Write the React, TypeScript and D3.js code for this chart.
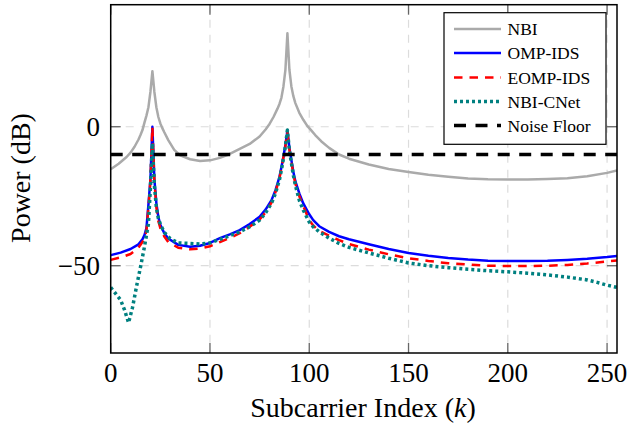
import React from "react";
import * as d3 from "d3";

type P = [number, number];

const xTicks = [0, 50, 100, 150, 200, 250];
const yTicks = [-50, 0];
const xDomain: P = [0, 255];
const yDomain: P = [-81.4, 43.9];

const seriesNames = ["NBI", "OMP-IDS", "EOMP-IDS", "NBI-CNet", "Noise Floor"];

const nbi: P[] = [
  [0, -15.3], [4, -13.3], [8, -10.9], [10, -9.3], [12, -7.2], [14, -4.6], [15, -3], [16, -1.2],
  [17, 1.5], [18, 4], [19, 7], [20, 12.5], [21, 20], [22, 12.5], [23, 7], [24, 3.5], [25, 1.2],
  [26, -0.5], [27, -2], [29, -4.8], [32, -8.3], [35, -10.3], [40, -11.7], [45, -12.3], [50, -12.1],
  [55, -11.2], [60, -9.8], [65, -8], [70, -6.2], [75, -3.5], [78, -1], [80, 1], [82, 3.5],
  [84, 6.5], [85, 8.2], [86, 10.5], [87, 14.5], [88, 20.5], [89, 33.6], [90, 20.5], [91, 14.5],
  [92, 11], [93, 8.5], [95, 5], [97, 2.5], [99, 0.3], [101, -1.3], [103, -3], [106, -5.2],
  [110, -7.6], [115, -10], [120, -11.5], [130, -13.6], [140, -15.2], [150, -16.3], [160, -17.3],
  [170, -18], [180, -18.6], [190, -18.9], [200, -19], [210, -19], [220, -18.8], [230, -18.5],
  [240, -17.8], [250, -16.6], [255, -15.7],
];

const ompIds: P[] = [
  [0, -46.2], [5, -45.3], [10, -44], [14, -42.3], [16, -40.5], [17, -39], [18, -36.5], [19, -28],
  [20, -19], [21, 0], [22, -19], [23, -27.5], [24, -32.5], [25, -35.3], [27, -38.3], [29, -40.2],
  [34, -42.5], [40, -43.2], [45, -42.8], [50, -41.8], [55, -40.1], [60, -38.7], [65, -37.2],
  [70, -35], [75, -32.4], [78, -29.8], [81, -26.4], [83, -22.8], [84, -20.5], [85, -18], [86, -14.5],
  [87, -10.8], [88, -6.5], [89, -1.4], [90, -7.5], [91, -12], [92, -16.3], [93, -19.6], [95, -24],
  [97, -27.6], [100, -31.5], [102, -33.6], [105, -35.8], [110, -37.8], [115, -39.4], [120, -40.5],
  [125, -41.4], [130, -42.3], [140, -44], [150, -45.4], [160, -46.4], [170, -47.2], [180, -47.8],
  [190, -48.2], [200, -48.3], [210, -48.3], [220, -48.2], [230, -47.9], [240, -47.5], [250, -46.9],
  [255, -46.5],
];

const eompIds: P[] = [
  [0, -47.9], [5, -47], [10, -45.8], [14, -43.5], [16, -41.5], [17, -40], [18, -37.5], [19, -29],
  [20, -19.5], [21, 0], [22, -19.5], [23, -29], [24, -34], [25, -36.5], [27, -39.5], [29, -41.5],
  [34, -43.5], [40, -44.1], [45, -43.8], [50, -43], [55, -41.5], [60, -40], [65, -38.3],
  [70, -36], [75, -33.4], [78, -30.8], [81, -27.3], [83, -23.5], [84, -21], [85, -18.5], [86, -15],
  [87, -11], [88, -7], [89, -2], [90, -8.3], [91, -12.5], [92, -17], [93, -20.5], [95, -25],
  [97, -28.6], [100, -33.6], [102, -35.5], [105, -37.5], [110, -39.2], [115, -40.8], [120, -42.2],
  [125, -43.2], [130, -44.2], [140, -45.9], [150, -47.3], [160, -48.3], [170, -49.1], [180, -49.6],
  [190, -50], [200, -50.1], [210, -50.1], [220, -50], [230, -49.7], [240, -49.2], [250, -48.5],
  [255, -48.1],
];

const nbiCnet: P[] = [
  [0, -57.8], [3, -60.5], [5, -62.3], [7, -66], [9, -70.5], [11, -65], [13, -57.5], [15, -50.5],
  [17, -43.2], [19, -35], [20, -22], [21, -6], [22, -21], [23, -29], [24, -33], [25, -35],
  [27, -38], [30, -40.3], [34, -41.8], [40, -42], [45, -42.2], [50, -41.8], [55, -40.5],
  [60, -39.2], [65, -37.8], [70, -36], [75, -33.6], [78, -31], [81, -27.5], [83, -24], [84, -21.5],
  [85, -19], [86, -15.5], [87, -11.5], [88, -7], [89, -1.2], [90, -8.5], [91, -13], [92, -17.5],
  [93, -21], [95, -26.5], [97, -30], [100, -34.3], [102, -36], [105, -37.8], [110, -40.1],
  [115, -42], [120, -43.4], [125, -44.4], [130, -45.4], [140, -47.3], [150, -49], [160, -50],
  [170, -50.7], [180, -51.3], [190, -51.8], [200, -52.2], [210, -52.7], [220, -53.3], [230, -54.1],
  [240, -55.1], [245, -56], [250, -57], [255, -57.8],
];

const noiseFloor: P[] = [[0, -10], [255, -10]];

const W = 628;
const H = 425;
const left = 110.7;
const right = 617;
const top = 4.7;
const bottom = 353;

const styles = [
  { color: "#aaaaaa", width: 2.5, dash: "" },
  { color: "#0000ff", width: 2.5, dash: "" },
  { color: "#ff0000", width: 2.5, dash: "8.5,7" },
  { color: "#008080", width: 3.5, dash: "3,3" },
  { color: "#000000", width: 3.5, dash: "12,9.5" },
];

export default function App() {
  const x = d3.scaleLinear().domain(xDomain).range([left, right]);
  const y = d3.scaleLinear().domain(yDomain).range([bottom, top]);
  const line = d3
    .line<P>()
    .x((d) => x(d[0]))
    .y((d) => y(d[1]));
  const data = [nbi, ompIds, eompIds, nbiCnet, noiseFloor];
  const font = "'Liberation Serif', 'Times New Roman', serif";
  const legendRows = [29, 53, 77.5, 101.5, 125.5];

  return (
    <svg
      width={W}
      height={H}
      style={{ position: "absolute", left: 0, top: 0, background: "#fff" }}
      fontFamily={font}
    >
      <defs>
        <clipPath id="plot">
          <rect x={left} y={top} width={right - left} height={bottom - top} />
        </clipPath>
      </defs>
      <rect x={0} y={0} width={W} height={H} fill="#fff" />
      {/* grid */}
      {xTicks.map((t) => (
        <line key={"gx" + t} x1={x(t)} x2={x(t)} y1={top} y2={bottom} stroke="#dcdcdc" strokeWidth={1.2} strokeDasharray="8,7" />
      ))}
      {yTicks.map((t) => (
        <line key={"gy" + t} x1={left} x2={right} y1={y(t)} y2={y(t)} stroke="#dcdcdc" strokeWidth={1.2} strokeDasharray="8,7" />
      ))}
      {/* ticks */}
      {xTicks.map((t) => (
        <g key={"tx" + t}>
          <line x1={x(t)} x2={x(t)} y1={bottom} y2={bottom - 10} stroke="#666" strokeWidth={1.3} />
          <line x1={x(t)} x2={x(t)} y1={top} y2={top + 10} stroke="#666" strokeWidth={1.3} />
        </g>
      ))}
      {yTicks.map((t) => (
        <g key={"ty" + t}>
          <line x1={left} x2={left + 10} y1={y(t)} y2={y(t)} stroke="#666" strokeWidth={1.3} />
          <line x1={right} x2={right - 10} y1={y(t)} y2={y(t)} stroke="#666" strokeWidth={1.3} />
        </g>
      ))}
      {/* series */}
      <g clipPath="url(#plot)">
        {data.map((d, i) => (
          <path
            key={i}
            d={line(d) || ""}
            fill="none"
            stroke={styles[i].color}
            strokeWidth={styles[i].width}
            strokeDasharray={styles[i].dash || undefined}
            strokeLinejoin="round"
          />
        ))}
      </g>
      {/* frame */}
      <rect x={left} y={top} width={right - left} height={bottom - top} fill="none" stroke="#000" strokeWidth={1.5} />
      {/* tick labels */}
      {xTicks.map((t) => (
        <text key={"lx" + t} x={x(t)} y={382} fontSize={27} textAnchor="middle">
          {t}
        </text>
      ))}
      {yTicks.map((t) => (
        <text key={"ly" + t} x={100} y={y(t) + 9} fontSize={27} textAnchor="end">
          {t < 0 ? "\u2212" + Math.abs(t) : String(t)}
        </text>
      ))}
      {/* axis labels */}
      <text x={363} y={417} fontSize={28} textAnchor="middle">
        Subcarrier Index (<tspan fontStyle="italic">k</tspan>)
      </text>
      <text transform="translate(30,178) rotate(-90)" fontSize={28} textAnchor="middle">
        Power (dB)
      </text>
      {/* legend */}
      <rect x={444} y={12.7} width={162} height={131.6} fill="#fff" stroke="#000" strokeWidth={1.2} />
      {seriesNames.map((n, i) => (
        <g key={n}>
          <line
            x1={454}
            x2={501}
            y1={legendRows[i]}
            y2={legendRows[i]}
            stroke={styles[i].color}
            strokeWidth={styles[i].width}
            strokeDasharray={styles[i].dash || undefined}
          />
          <text x={507.5} y={legendRows[i] + 6} fontSize={17.5}>
            {n}
          </text>
        </g>
      ))}
    </svg>
  );
}
